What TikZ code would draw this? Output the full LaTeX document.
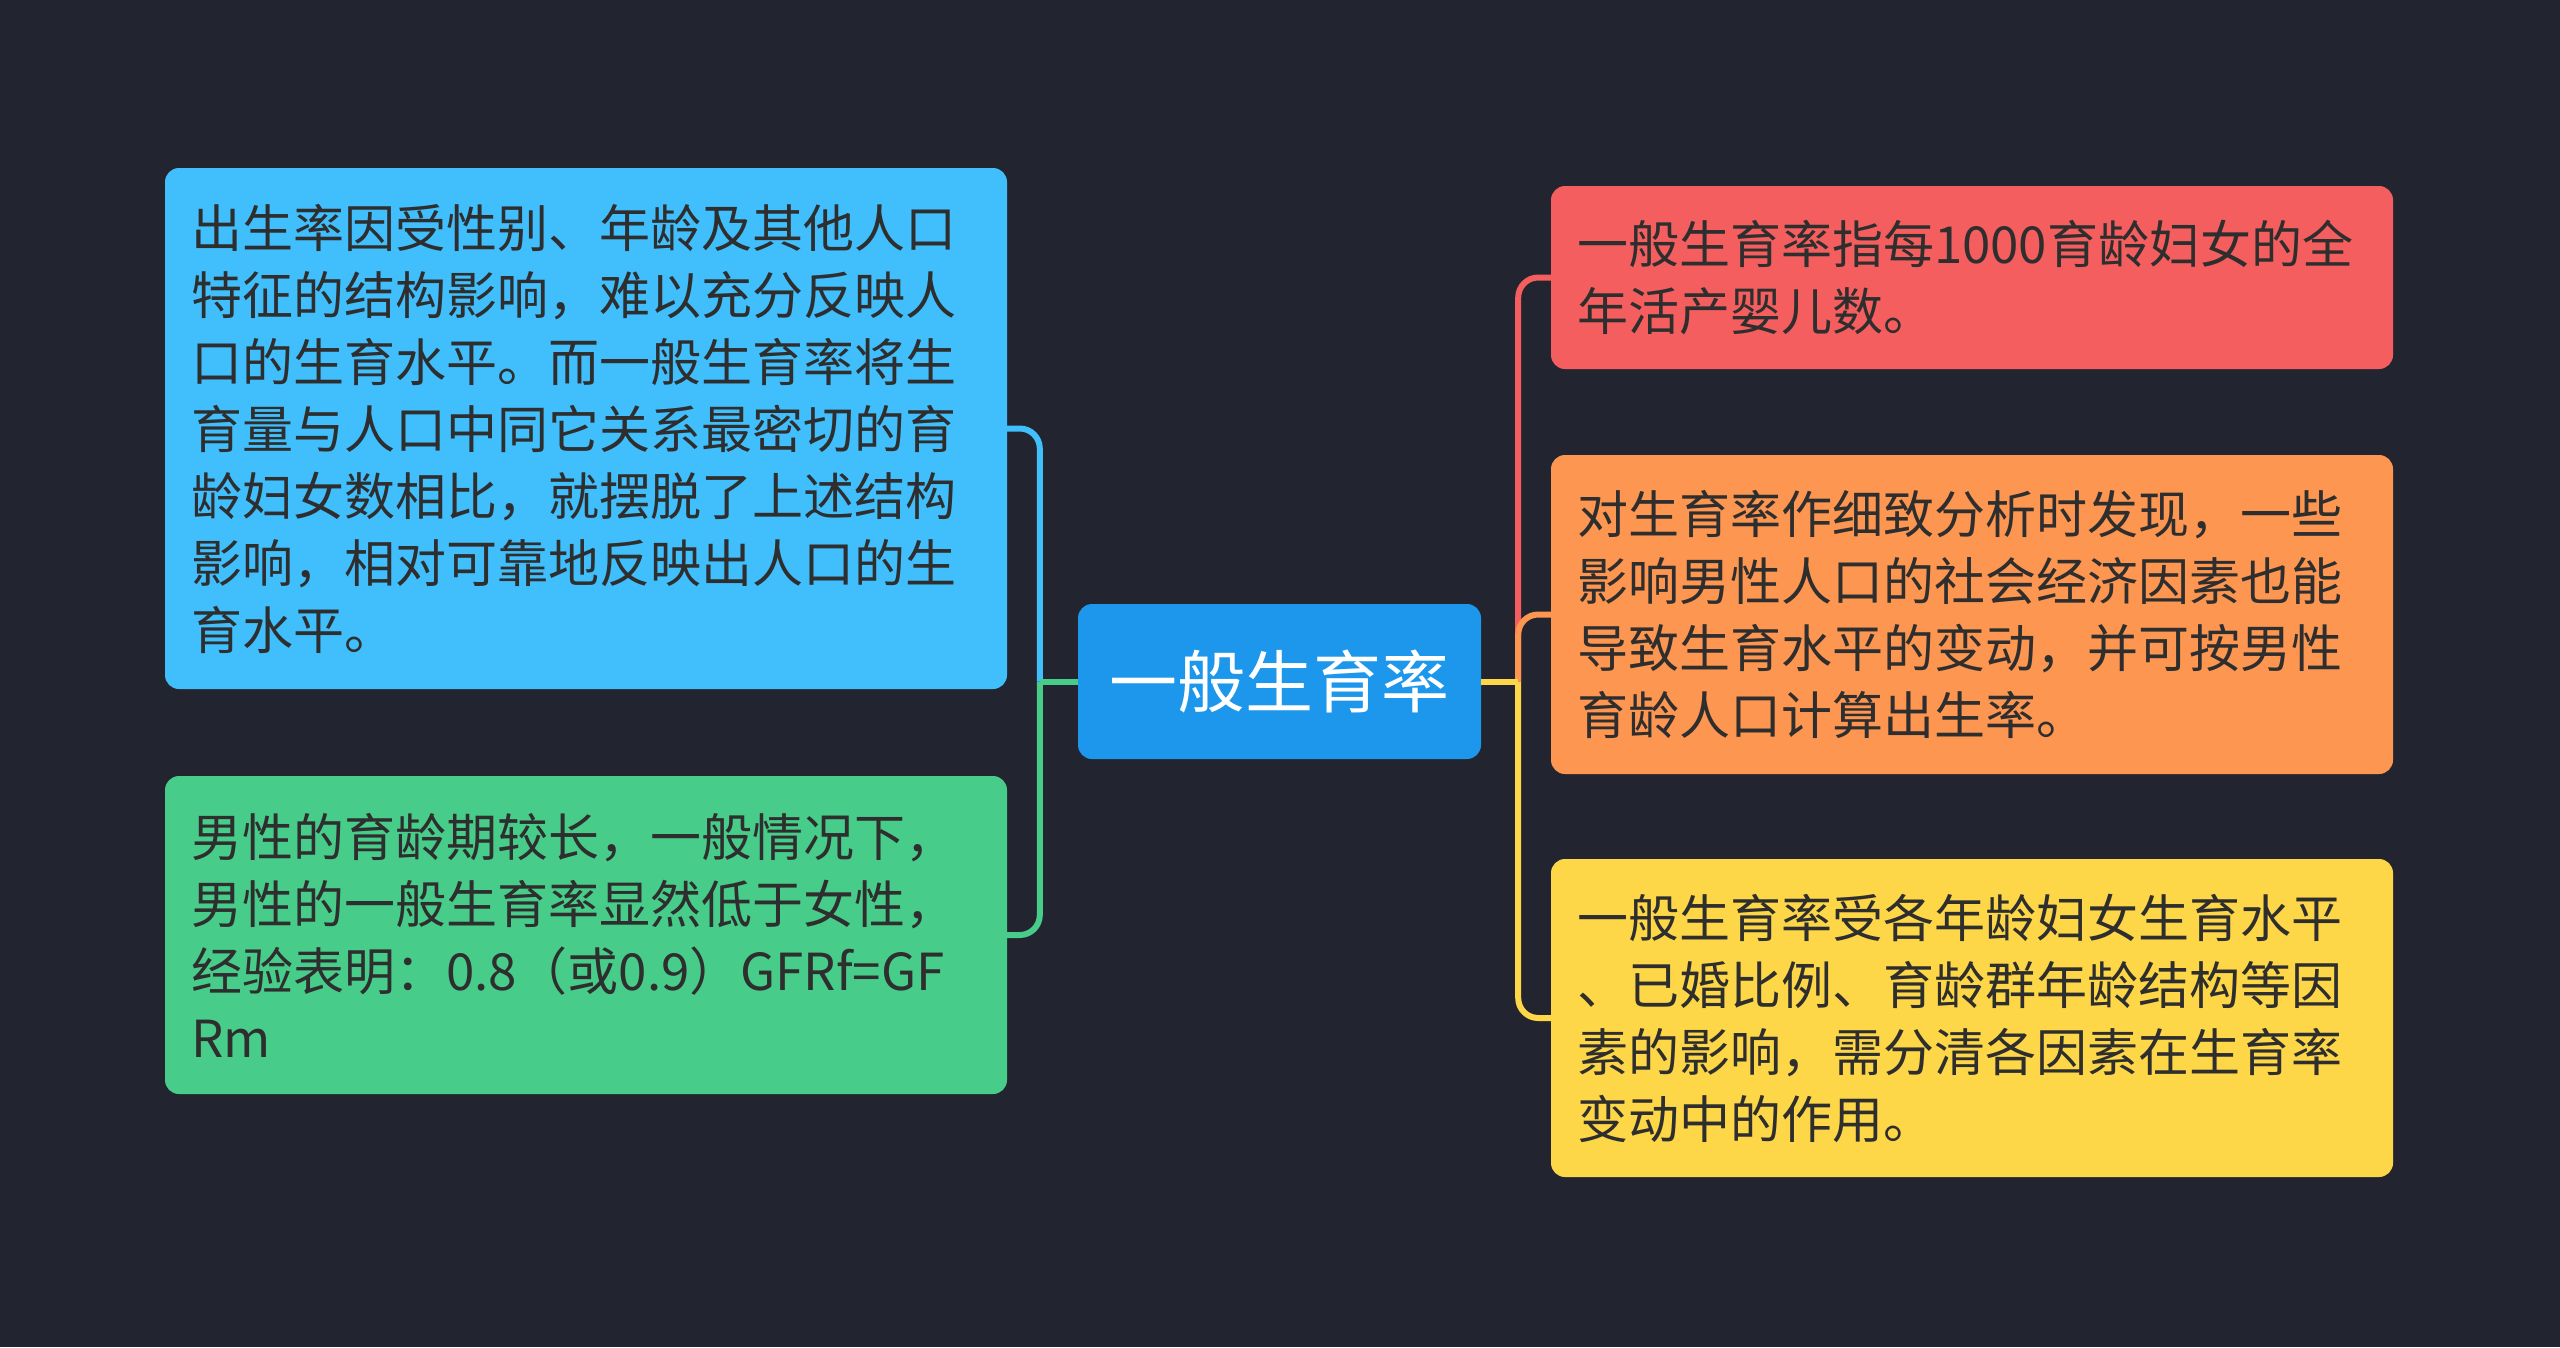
\documentclass[tikz,border=0pt]{standalone}
\usepackage{fontspec}
\newfontfamily\cjk{Noto Sans CJK SC}
\definecolor{bgC}{HTML}{22252F}
\definecolor{centerC}{HTML}{1C97EC}
\definecolor{blueC}{HTML}{41BEFC}
\definecolor{greenC}{HTML}{48CC8A}
\definecolor{redC}{HTML}{F55E5E}
\definecolor{orangeC}{HTML}{FC9651}
\definecolor{yellowC}{HTML}{FDD748}
\definecolor{txtC}{HTML}{2E2E2E}
\tikzset{
  box/.style={rounded corners=14pt, minimum width=836pt, inner xsep=26pt, inner ysep=0pt,
    text width=790pt, align=left, text=txtC, font=\cjk\fontsize{51}{67}\selectfont},
  root/.style={rounded corners=14pt, fill=centerC, minimum width=403pt, minimum height=155pt,
    text=white, font=\cjk\fontsize{68}{80}\selectfont},
  conn/.style={line width=6pt},
  curvedconn/.style={line width=6pt, rounded corners=20pt}
}
\begin{document}
\begin{tikzpicture}[x=1pt,y=-1pt]
\fill[bgC] (0,0) rectangle (2560,1347);
\useasboundingbox (0,0) rectangle (2560,1347);

\node[root] (c) at (1279.5,681.5) {一般生育率};

\node[box, fill=blueC, minimum height=521pt] (b) at (586,428.5)
 {出生率因受性别、年龄及其他人口\\特征的结构影响，难以充分反映人\\口的生育水平。而一般生育率将生\\育量与人口中同它关系最密切的育\\龄妇女数相比，就摆脱了上述结构\\影响，相对可靠地反映出人口的生\\育水平。};
\node[box, fill=greenC, minimum height=318pt] (g) at (586,935)
 {男性的育龄期较长，一般情况下，\\男性的一般生育率显然低于女性，\\经验表明：0.8（或0.9）GFRf=GF\\Rm};
\node[box, fill=redC, minimum height=183pt] (r) at (1972,277.5)
 {一般生育率指每1000育龄妇女的全\\年活产婴儿数。};
\node[box, fill=orangeC, minimum height=319pt] (o) at (1972,614.5)
 {对生育率作细致分析时发现，一些\\影响男性人口的社会经济因素也能\\导致生育水平的变动，并可按男性\\育龄人口计算出生率。};
\node[box, fill=yellowC, minimum height=318pt] (y) at (1972,1018)
 {一般生育率受各年龄妇女生育水平\\、已婚比例、育龄群年龄结构等因\\素的影响，需分清各因素在生育率\\变动中的作用。};

\coordinate (lt) at ([xshift=-38pt]c.west);
\coordinate (rt) at ([xshift=37pt]c.east);

\draw[curvedconn, blueC] (lt) |- (b.east);
\draw[conn, blueC] (c.west) -- (lt);
\draw[curvedconn, greenC] (lt) |- (g.east);
\draw[conn, greenC] (c.west) -- (lt);
\draw[curvedconn, redC] (rt) |- (r.west);
\draw[curvedconn, orangeC] (rt) |- (o.west);
\draw[curvedconn, yellowC] (rt) |- (y.west);
\draw[conn, yellowC] (c.east) -- (rt);
\end{tikzpicture}
\end{document}
